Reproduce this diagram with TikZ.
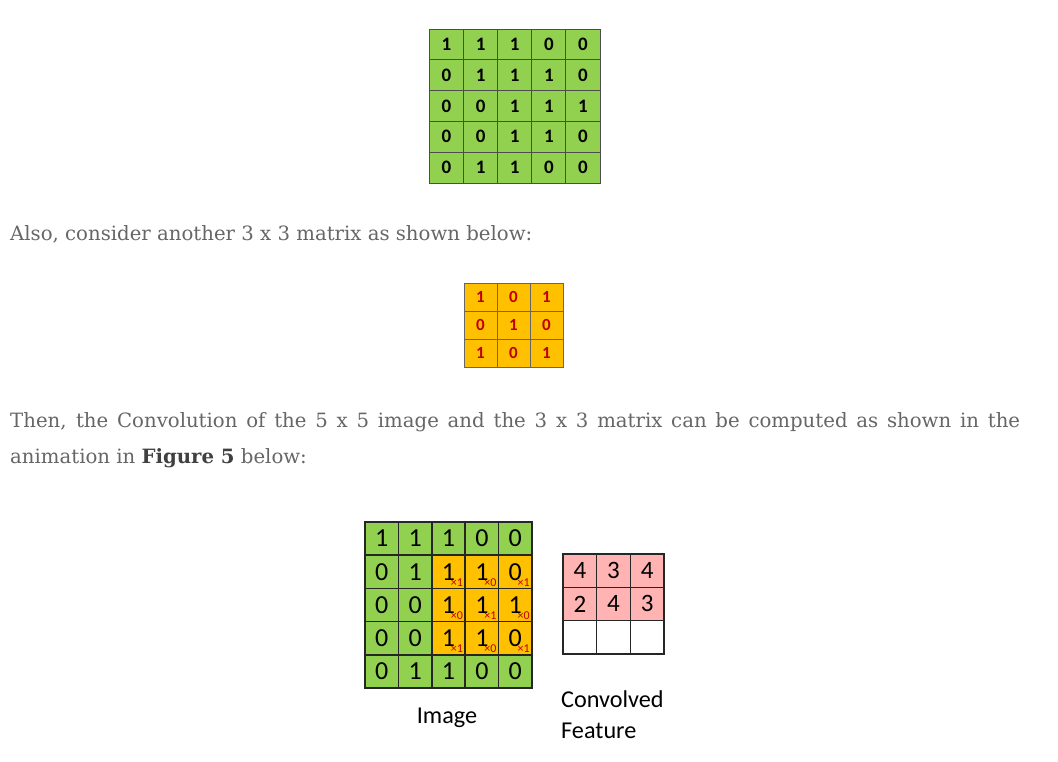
\documentclass[tikz,border=0pt]{standalone}
\usepackage{fontspec}
\setmainfont{DejaVu Serif}
\newfontfamily\carlito{Carlito}
\definecolor{vertcase}{HTML}{92D050}
\definecolor{orcase}{HTML}{FFC000}
\definecolor{rosecase}{HTML}{FFB3B3}
\definecolor{rougetxt}{HTML}{C00000}
\definecolor{gristxt}{HTML}{666666}

\tikzset{
  petitecase/.style={draw=black!70, line width=0.9, inner sep=0, outer sep=0,
    minimum width=34.1, minimum height=30.8, fill=vertcase,
    font=\carlito\bfseries\fontsize{19}{19}\selectfont},
  noyau/.style={petitecase, draw=black!60, minimum width=33, minimum height=28, fill=orcase,
    text=rougetxt, font=\carlito\bfseries\fontsize{17}{17}\selectfont},
  grandecase/.style={draw=black!85, line width=1.6, inner sep=0, outer sep=0,
    minimum width=33.4, minimum height=33.2, font=\carlito\fontsize{26}{26}\selectfont},
  convcase/.style={grandecase, line width=1.3, minimum width=33.7, minimum height=33.3,
    font=\carlito\fontsize{25}{25}\selectfont},
  indice/.style={inner sep=0, text=rougetxt, font=\carlito\fontsize{12}{12}\selectfont},
  texte/.style={inner sep=0, anchor=base west, text=gristxt, font=\fontsize{19.7}{36}\selectfont},
  legende/.style={inner sep=0, font=\carlito\fontsize{24.2}{30}\selectfont}
}

\begin{document}
\begin{tikzpicture}[x=1pt,y=-1pt]
 \useasboundingbox (0,0) rectangle (1058,762);
 \fill[white] (0,0) rectangle (1058,762);

	% Image 5x5
 \foreach \ligne [count=\i from 0] in {{1,1,1,0,0},{0,1,1,1,0},{0,0,1,1,1},{0,0,1,1,0},{0,1,1,0,0}}
  \foreach \v [count=\j from 0] in \ligne
   \node[petitecase] (a-\i-\j) at ({446.55+34.1*\j},{44.4+30.8*\i}) {\v};

 \node[texte] (t1) at (10,241) {Also, consider another 3 x 3 matrix as shown below:};

	% Filtre 3x3
 \foreach \ligne [count=\i from 0] in {{1,0,1},{0,1,0},{1,0,1}}
  \foreach \v [count=\j from 0] in \ligne
   \node[noyau] (k-\i-\j) at ({480.5+33*\j},{297+28*\i}) {\v};

 \node[texte] (t2) at (10,427) {\makebox[1010pt][s]{Then, the Convolution of the 5 x 5 image and the 3 x 3 matrix can be computed as shown in the}};
 \node[texte] (t3) at (10,463) {animation in {\bfseries\color{black!75}Figure 5} below:};

	% Image avec fenetre
 \foreach \ligne [count=\i from 0] in {{1,1,1,0,0},{0,1,1,1,0},{0,0,1,1,1},{0,0,1,1,0},{0,1,1,0,0}}
  \foreach \v [count=\j from 0] in \ligne {
   \pgfmathtruncatemacro\dedans{(\i>0)*(\i<4)*(\j>1)}
   \ifnum\dedans=1
    \pgfmathtruncatemacro\poids{mod(\i+\j,2)}
    \node[grandecase, fill=orcase] (b-\i-\j) at ({381.7+33.4*\j},{538.6+33.2*\i}) {\v};
    \node[indice, anchor=south east] (p-\i-\j) at ([xshift=-2,yshift=2]b-\i-\j.south east) {×\poids};
   \else
    \node[grandecase, fill=vertcase] (b-\i-\j) at ({381.7+33.4*\j},{538.6+33.2*\i}) {\v};
   \fi
  }

	% Carte convoluee
 \foreach \ligne [count=\i from 0] in {{4,3,4},{2,4,3}}
  \foreach \v [count=\j from 0] in \ligne
   \node[convcase, fill=rosecase] (c-\i-\j) at ({579.85+33.7*\j},{570.65+33.3*\i}) {\v};
 \foreach \j in {0,1,2}
  \node[convcase, fill=white] (c-2-\j) at ({579.85+33.7*\j},{637.25}) {};

	% Legendes
 \node[legende, anchor=base] (img) at (447,723) {Image};
 \node[legende, anchor=base west] (conv) at (561,707) {Convolved};
 \node[legende, anchor=base west] (feat) at (561,738) {Feature};

\end{tikzpicture}
\end{document}
